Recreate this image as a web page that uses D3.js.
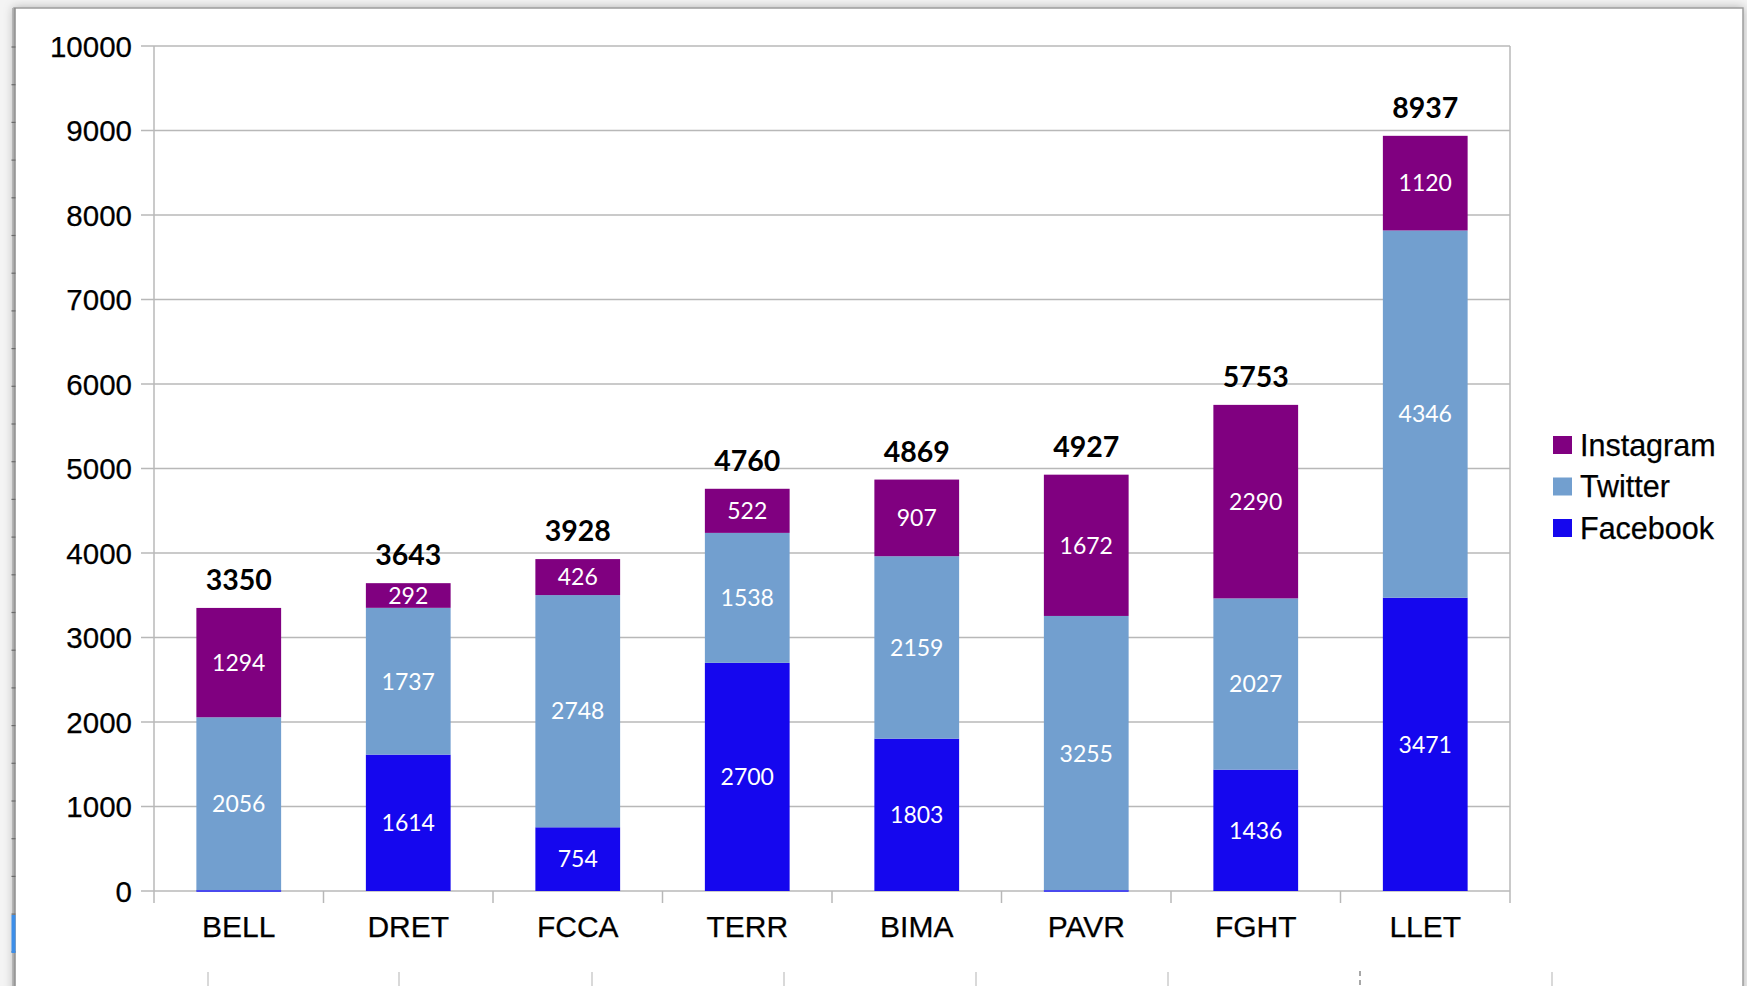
<!DOCTYPE html>
<html>
<head>
<meta charset="utf-8">
<script src="https://cdn.jsdelivr.net/npm/d3@7"></script>
<style>
  html, body { margin: 0; padding: 0; background: #ffffff; overflow: hidden; }
  svg { display: block; }
</style>
</head>
<body>
<svg id="chart" width="1747" height="986"></svg>
<script>
// ---- data ----
const categories = ["BELL", "DRET", "FCCA", "TERR", "BIMA", "PAVR", "FGHT", "LLET"];
const facebook  = [0, 1614, 754, 2700, 1803, 0, 1436, 3471];
const twitter   = [2056, 1737, 2748, 1538, 2159, 3255, 2027, 4346];
const instagram = [1294, 292, 426, 522, 907, 1672, 2290, 1120];
const totals    = [3350, 3643, 3928, 4760, 4869, 4927, 5753, 8937];
const seriesNames = ["Facebook", "Twitter", "Instagram"];
const legendOrder = ["Instagram", "Twitter", "Facebook"];
const yTicks = [0, 1000, 2000, 3000, 4000, 5000, 6000, 7000, 8000, 9000, 10000];

const colors = { Facebook: "#1507ee", Twitter: "#729fcf", Instagram: "#800080" };

const svg = d3.select("#chart");
const W = 1747, H = 986;

// ---- window frame / decoration ----
const defs = svg.append("defs");
const flt = defs.append("filter").attr("id", "shadow").attr("x", "-5%").attr("y", "-5%").attr("width", "110%").attr("height", "110%");
flt.append("feDropShadow").attr("dx", 0).attr("dy", 0).attr("stdDeviation", 5)
  .attr("flood-color", "#000").attr("flood-opacity", 0.28);

svg.append("rect").attr("x", 0).attr("y", 0).attr("width", W).attr("height", H).attr("fill", "#f4f4f4");
svg.append("rect").attr("x", 14).attr("y", 8).attr("width", 1729).attr("height", 1100)
  .attr("fill", "#ffffff").attr("stroke", "#9c9c9c").attr("stroke-width", 1.5)
  .attr("filter", "url(#shadow)");

// left ruler-like border
svg.append("line").attr("x1", 12.5).attr("x2", 12.5).attr("y1", 8).attr("y2", H).attr("stroke", "#b5b5b5").attr("stroke-width", 1);
svg.append("line").attr("x1", 15).attr("x2", 15).attr("y1", 8).attr("y2", H).attr("stroke", "#8e8e8e").attr("stroke-width", 1.5);
const rulerTicks = d3.range(47, 986, 37.7);
svg.append("g").selectAll("line").data(rulerTicks).join("line")
  .attr("x1", 11.5).attr("x2", 15.5).attr("y1", d => d).attr("y2", d => d)
  .attr("stroke", "#6a6a6a").attr("stroke-width", 1.2);
svg.append("rect").attr("x", 11.5).attr("y", 915).attr("width", 4).attr("height", 38).attr("fill", "#3d8ee8");

// bottom faint lines (sheet cell boundaries)
const bottomLines = [208, 399, 592, 784, 976, 1168, 1552];
svg.append("g").selectAll("line").data(bottomLines).join("line")
  .attr("x1", d => d).attr("x2", d => d).attr("y1", 972).attr("y2", H)
  .attr("stroke", "#cccccc").attr("stroke-width", 1.5);
svg.append("line").attr("x1", 1360).attr("x2", 1360).attr("y1", 971).attr("y2", H)
  .attr("stroke", "#8a8a8a").attr("stroke-width", 1.5).attr("stroke-dasharray", "5,4");

// ---- scales ----
const pL = 154, pR = 1510, pT = 46, pB = 891;
const x = d3.scaleBand().domain(categories).range([pL, pR]).paddingInner(0.5).paddingOuter(0.25);
const y = d3.scaleLinear().domain([0, 10000]).range([pB, pT]);

const grid = "#b8b8b8";
const axisFont = "'Liberation Sans', Arial, sans-serif";
const labelFont = "Lato, 'Open Sans', sans-serif";

// gridlines with left tick extension
svg.append("g").selectAll("line").data(yTicks).join("line")
  .attr("x1", pL - 13).attr("x2", pR)
  .attr("y1", d => y(d)).attr("y2", d => y(d))
  .attr("stroke", grid).attr("stroke-width", 1.5);

// y axis line and right border
svg.append("line").attr("x1", pL).attr("x2", pL).attr("y1", pT).attr("y2", pB + 12).attr("stroke", grid).attr("stroke-width", 1.5);
svg.append("line").attr("x1", pR).attr("x2", pR).attr("y1", pT).attr("y2", pB + 12).attr("stroke", grid).attr("stroke-width", 1.5);

// category boundary ticks
const bounds = categories.slice(1).map((c, i) => (x(categories[i]) + x.bandwidth() + x(c)) / 2);
svg.append("g").selectAll("line").data(bounds).join("line")
  .attr("x1", d => d).attr("x2", d => d).attr("y1", pB).attr("y2", pB + 12)
  .attr("stroke", grid).attr("stroke-width", 1.5);

// y labels
svg.append("g").selectAll("text").data(yTicks).join("text")
  .attr("x", 132).attr("y", d => y(d)).attr("dy", "0.36em")
  .attr("text-anchor", "end")
  .attr("font-family", axisFont).attr("font-size", 29.5)
  .attr("fill", "#000").attr("stroke", "#000").attr("stroke-width", 0.25).text(d => d);

// x labels
svg.append("g").selectAll("text").data(categories).join("text")
  .attr("x", d => x(d) + x.bandwidth() / 2).attr("y", 937)
  .attr("text-anchor", "middle")
  .attr("font-family", axisFont).attr("font-size", 30)
  .attr("fill", "#000").attr("stroke", "#000").attr("stroke-width", 0.25).text(d => d);

// ---- stacked bars ----
const table = categories.map((c, i) => ({ cat: c, Facebook: facebook[i], Twitter: twitter[i], Instagram: instagram[i] }));
const stack = d3.stack().keys(seriesNames)(table);

const gBars = svg.append("g");
stack.forEach(layer => {
  const key = layer.key;
  gBars.append("g").selectAll("rect").data(layer).join("rect")
    .attr("x", d => x(d.data.cat))
    .attr("width", x.bandwidth())
    .attr("y", d => y(d[1]))
    .attr("height", d => y(d[0]) - y(d[1]))
    .attr("fill", colors[key]);
});
// zero-height Facebook segments drawn as thin line (as in source)
gBars.append("g").selectAll("rect").data(stack[0].filter(d => d[1] - d[0] === 0)).join("rect")
  .attr("x", d => x(d.data.cat)).attr("width", x.bandwidth())
  .attr("y", d => y(d[0]) - 1).attr("height", 2)
  .attr("fill", "#4a4aee");

// segment labels
stack.forEach(layer => {
  svg.append("g").selectAll("text").data(layer.filter(d => d[1] - d[0] > 0)).join("text")
    .attr("x", d => x(d.data.cat) + x.bandwidth() / 2)
    .attr("y", d => y((d[0] + d[1]) / 2)).attr("dy", "0.36em")
    .attr("text-anchor", "middle")
    .attr("font-family", labelFont).attr("font-size", 23)
    .attr("fill", "#ffffff").text(d => d[1] - d[0]);
});

// totals
svg.append("g").selectAll("text").data(categories).join("text")
  .attr("x", d => x(d) + x.bandwidth() / 2)
  .attr("y", (d, i) => y(totals[i]) - 18)
  .attr("text-anchor", "middle")
  .attr("font-family", labelFont).attr("font-weight", 700).attr("font-size", 28.5)
  .attr("fill", "#000").text((d, i) => totals[i]);

// ---- legend ----
const lg = svg.append("g");
legendOrder.forEach((name, i) => {
  const cy = 445 + i * 41.5;
  lg.append("rect").attr("x", 1553).attr("y", cy - 9).attr("width", 19).attr("height", 18).attr("fill", colors[name]);
  lg.append("text").attr("x", 1580).attr("y", cy).attr("dy", "0.36em")
    .attr("font-family", axisFont).attr("font-size", 30.5)
    .attr("fill", "#000").attr("stroke", "#000").attr("stroke-width", 0.25).text(name);
});
</script>
</body>
</html>
